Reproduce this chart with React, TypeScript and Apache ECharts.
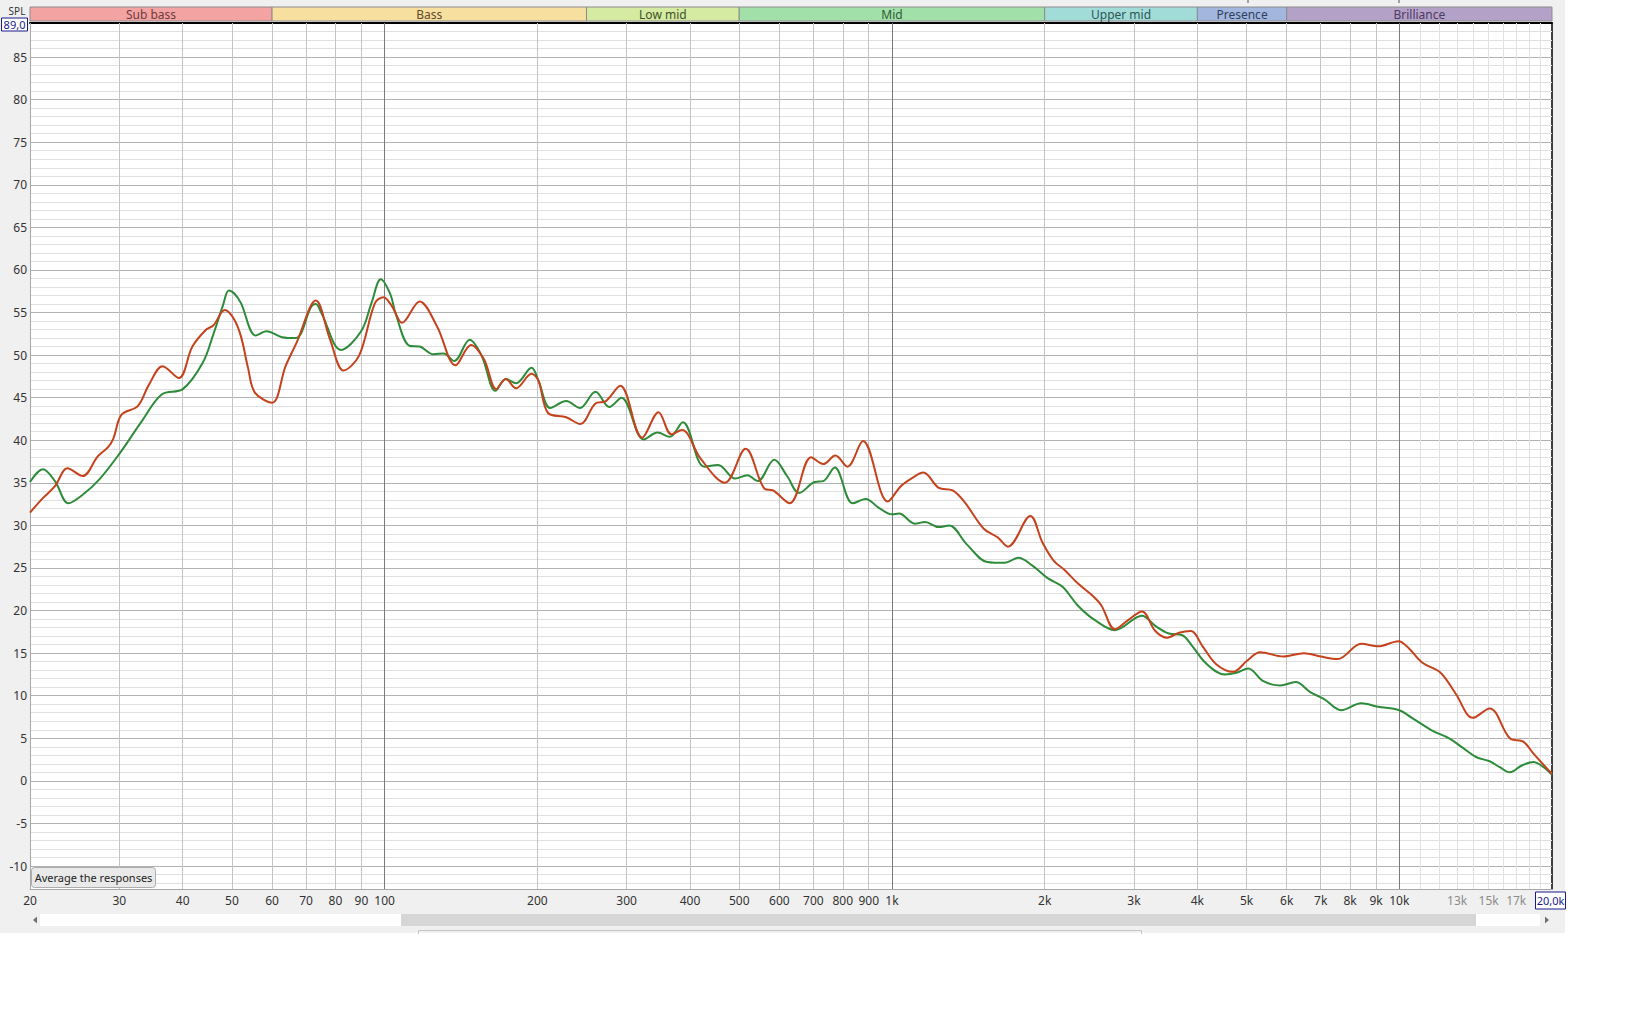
import React, { useEffect, useRef } from "react";
import * as echarts from "echarts";

// ---------- data ----------
const greenFreq = [20, 21.2, 22.4, 23.8, 25.4, 27.4, 30, 33.1, 36.4, 40, 43.8, 46, 48, 49.3, 50.6, 52.1, 55.7, 58.5, 62.8, 66.8, 71.7, 73.2, 75.1, 82.1, 89.9, 94.2, 98.3, 102.7, 105.1, 111.9, 117.3, 124.8, 130.8, 137.1, 147.1, 155.4, 165.4, 173.3, 181.6, 194.8, 201, 212, 228, 242.7, 260.4, 277.3, 292.9, 324.3, 345.1, 364.6, 387.1, 426.6, 454.2, 491.1, 518.8, 543.7, 586.1, 621.2, 656.2, 704.2, 732.3, 771.3, 836.7, 887.7, 940.7, 1000, 1033, 1109, 1162, 1237, 1297, 1403, 1541, 1667, 1774, 1889, 2027, 2169, 2324, 2508, 2751, 3110, 3305, 3514, 3736, 3912, 4159, 4525, 4775, 5037, 5397, 5826, 6243, 6688, 7110, 7677, 8415, 9085, 10000, 10590, 11610, 12540, 13330, 14170, 15070, 15780, 16520, 17430, 18390, 19250, 20000];
const greenSpl = [35.1, 36.6, 35.2, 32.6, 33.6, 35.4, 38.4, 42.1, 45.4, 46.0, 49.1, 52.5, 55.8, 57.6, 57.2, 56.1, 52.3, 52.8, 52.1, 52.0, 55.7, 56.0, 54.9, 50.6, 52.8, 56.1, 58.9, 57.1, 54.9, 51.1, 51.0, 50.1, 50.2, 49.3, 51.8, 49.9, 45.8, 47.2, 46.7, 48.5, 47.0, 43.8, 44.6, 43.8, 45.7, 43.9, 45.0, 40.1, 40.9, 40.4, 42.1, 36.9, 37.1, 35.5, 35.9, 35.2, 37.7, 35.8, 33.8, 35.1, 35.2, 36.8, 32.6, 33.1, 32.1, 31.3, 31.4, 30.2, 30.4, 29.8, 30.0, 27.8, 25.7, 25.6, 26.2, 25.3, 23.8, 22.8, 20.6, 18.9, 17.7, 19.4, 18.2, 17.3, 17.1, 15.8, 13.8, 12.5, 12.7, 13.2, 11.7, 11.2, 11.6, 10.4, 9.6, 8.3, 9.1, 8.7, 8.3, 7.4, 5.9, 5.0, 3.9, 2.8, 2.3, 1.6, 1.0, 1.8, 2.2, 1.6, 0.7];

const redFreq = [20, 21.2, 22.4, 23.7, 25.4, 27.2, 28.5, 29.2, 30.3, 32.6, 34.3, 36.5, 39.3, 41.8, 44.5, 46, 48.4, 50.4, 52.1, 53.8, 55.5, 60, 63.8, 67, 73.2, 78.1, 83, 89, 95.7, 99.5, 103.5, 108.2, 117.2, 126.8, 138, 148, 157, 166, 173.3, 181.6, 194.8, 201, 210, 228, 243, 260, 273, 291.4, 321.8, 346.7, 367.5, 385.5, 420, 468.5, 514.8, 561, 583, 628.9, 693.2, 732, 773.6, 817, 876.7, 981.3, 1041, 1092, 1153, 1237, 1317, 1392, 1517, 1615, 1693, 1874, 1980, 2087, 2186, 2324, 2489, 2587, 2751, 2925, 3110, 3305, 3487, 3680, 3883, 4096, 4356, 4703, 5011, 5317, 5917, 6487, 7004, 7560, 8415, 9085, 9965, 10430, 11090, 12060, 12930, 13960, 15070, 16520, 17560, 18390, 20000];
const redSpl = [31.5, 33.2, 34.6, 36.7, 35.8, 38.1, 39.2, 40.2, 43.0, 44.0, 46.5, 48.7, 47.3, 51.0, 53.0, 53.5, 55.3, 54.3, 52.2, 48.5, 45.6, 44.4, 48.7, 51.4, 56.4, 51.8, 48.2, 49.9, 56.1, 56.8, 55.7, 53.8, 56.3, 53.4, 48.8, 51.2, 49.5, 46.0, 47.2, 46.1, 47.8, 47.0, 43.2, 42.7, 41.9, 44.3, 44.6, 46.4, 40.3, 43.3, 40.7, 41.2, 37.8, 35.0, 39.0, 34.3, 34.1, 32.6, 38.0, 37.2, 38.2, 36.9, 39.9, 32.8, 34.6, 35.5, 36.2, 34.4, 34.1, 32.7, 29.6, 28.6, 27.5, 31.1, 28.0, 25.8, 24.8, 23.2, 21.7, 20.6, 17.8, 18.9, 19.9, 17.6, 16.8, 17.4, 17.6, 15.8, 13.7, 12.8, 14.1, 15.1, 14.6, 15.0, 14.6, 14.3, 16.1, 15.8, 16.4, 15.6, 13.9, 12.7, 10.2, 7.4, 8.5, 5.0, 4.6, 3.2, 0.8];

const bandNames = ["Sub bass", "Bass", "Low mid", "Mid", "Upper mid", "Presence", "Brilliance"];
const bandEdges = [20, 60, 250, 500, 2000, 4000, 6000, 20000];
const bandColors = ["#f4a3a3", "#f7dfa0", "#d5eba1", "#a2e0a9", "#a2dcd9", "#a3b6dd", "#b4a1c8"];
const bandTextColors = ["#6e3b3b", "#5f4a2c", "#3f4f2a", "#2f5a38", "#2f5555", "#2f3f5f", "#4b3b5e"];

const xLabelFreqs = [20, 30, 40, 50, 60, 70, 80, 90, 100, 200, 300, 400, 500, 600, 700, 800, 900, 1000, 2000, 3000, 4000, 5000, 6000, 7000, 8000, 9000, 10000, 13000, 15000, 17000];
const xLabelTexts = ["20", "30", "40", "50", "60", "70", "80", "90", "100", "200", "300", "400", "500", "600", "700", "800", "900", "1k", "2k", "3k", "4k", "5k", "6k", "7k", "8k", "9k", "10k", "13k", "15k", "17k"];
const xDarkLines = [100, 1000, 10000];
const xGridLines = [30, 40, 50, 60, 70, 80, 90, 200, 300, 400, 500, 600, 700, 800, 900, 2000, 3000, 4000, 5000, 6000, 7000, 8000, 9000];
const xFaintLines = [11000, 12000, 13000, 14000, 15000, 16000, 17000, 18000, 19000];
const yLabelValues = [-10, -5, 0, 5, 10, 15, 20, 25, 30, 35, 40, 45, 50, 55, 60, 65, 70, 75, 80, 85];
const yMinorValues = [-12, -11, -9, -8, -7, -6, -4, -3, -2, -1, 1, 2, 3, 4, 6, 7, 8, 9, 11, 12, 13, 14, 16, 17, 18, 19, 21, 22, 23, 24, 26, 27, 28, 29, 31, 32, 33, 34, 36, 37, 38, 39, 41, 42, 43, 44, 46, 47, 48, 49, 51, 52, 53, 54, 56, 57, 58, 59, 61, 62, 63, 64, 66, 67, 68, 69, 71, 72, 73, 74, 76, 77, 78, 79, 81, 82, 83, 84, 86, 87, 88];
const yMin = -12.7;
const yMax = 89;

const FONT = "'Noto Sans', 'Open Sans', sans-serif";

export default function App() {
  const ref = useRef<HTMLDivElement>(null);

  useEffect(() => {
    if (!ref.current) return;
    const chart = echarts.init(ref.current, undefined, { renderer: "svg" });

    const labelMap: Record<number, string> = {};
    xLabelFreqs.forEach((f, i) => (labelMap[f] = xLabelTexts[i]));
    const faintLabel = (f: number) => f > 10000;

    const allX = Array.from(new Set([20, ...xGridLines, ...xDarkLines, ...xFaintLines])).sort((a, b) => a - b);
    const vLines = allX.map((f) => {
      let color = "#c4c4c4";
      if (xDarkLines.includes(f)) color = "#7a7a7a";
      else if (xFaintLines.includes(f)) color = "#e2e2e2";
      else if (f === 20) color = "#a8a8a8";
      const txt = labelMap[f];
      return {
        xAxis: f,
        lineStyle: { color, width: 1, type: "solid" },
        label: txt
          ? { show: true, formatter: txt, color: faintLabel(f) ? "#8c8c8c" : "#333333" }
          : { show: false },
      };
    });
    const hMajor = yLabelValues.map((v) => ({
      yAxis: v,
      lineStyle: { color: "#b2b2b2", width: 1, type: "solid" },
      label: { show: true, formatter: String(v), color: "#333333", distance: 3 },
    }));
    const hMinor = yMinorValues.map((v) => ({
      yAxis: v,
      lineStyle: { color: "#e0e0e0", width: 1, type: "solid" },
      label: { show: false },
    }));

    const bandAreas = bandNames.map((n, i) => [
      {
        name: n,
        xAxis: bandEdges[i],
        itemStyle: { color: bandColors[i], borderColor: "#8c8c8c", borderWidth: 1 },
        label: { color: bandTextColors[i] },
      },
      { xAxis: bandEdges[i + 1] },
    ]);

    const option: any = {
      animation: false,
      backgroundColor: "#f0f0f0",
      textStyle: { fontFamily: FONT },
      grid: [
        { left: 30, right: 90, top: 23, bottom: 137, show: true, backgroundColor: "#ffffff", borderWidth: 0, containLabel: false },
        { left: 30, right: 90, top: 7, height: 14, show: false, containLabel: false },
      ],
      xAxis: [
        {
          gridIndex: 0, type: "log", logBase: 10, min: 20, max: 20000, position: "bottom",
          axisLine: { show: true, onZero: false, lineStyle: { color: "#a8a8a8", width: 1 } },
          axisTick: { show: false }, axisLabel: { show: false }, splitLine: { show: false }, minorSplitLine: { show: false },
        },
        {
          gridIndex: 0, type: "log", logBase: 10, min: 20, max: 20000, position: "top",
          axisLine: { show: true, onZero: false, lineStyle: { color: "#000000", width: 2 } },
          axisTick: { show: false }, axisLabel: { show: false }, splitLine: { show: false },
        },
        {
          gridIndex: 1, type: "log", logBase: 10, min: 20, max: 20000, show: false,
          axisLine: { onZero: false },
        },
      ],
      yAxis: [
        {
          gridIndex: 0, type: "value", min: yMin, max: yMax, position: "left",
          axisLine: { show: true, onZero: false, lineStyle: { color: "#a8a8a8", width: 1 } },
          axisTick: { show: false }, axisLabel: { show: false }, splitLine: { show: false },
        },
        {
          gridIndex: 0, type: "value", min: yMin, max: yMax, position: "right",
          axisLine: { show: true, onZero: false, lineStyle: { color: "#000000", width: 1.5 } },
          axisTick: { show: false }, axisLabel: { show: false }, splitLine: { show: false },
        },
        { gridIndex: 1, type: "value", min: 0, max: 1, show: false },
      ],
      series: [
        {
          name: "grid",
          type: "line",
          xAxisIndex: 0,
          yAxisIndex: 0,
          data: [],
          clip: false,
          silent: true,
          z: 1,
          markLine: {
            silent: true,
            symbol: ["none", "none"],
            animation: false,
            z: 1,
            label: {
              show: false,
              position: "start",
              distance: 5,
              fontSize: 12,
              fontFamily: FONT,
              color: "#333333",
            },
            emphasis: { disabled: true },
            data: [...hMinor, ...hMajor, ...vLines],
          },
        },
        {
          name: "bands",
          type: "line",
          xAxisIndex: 2,
          yAxisIndex: 2,
          data: [],
          silent: true,
          markArea: {
            silent: true,
            label: { show: true, position: "inside", fontSize: 12, fontFamily: FONT },
            emphasis: { disabled: true },
            data: bandAreas,
          },
        },
        {
          name: "Right",
          type: "line",
          xAxisIndex: 0,
          yAxisIndex: 0,
          z: 3,
          showSymbol: false,
          smooth: 0.35,
          lineStyle: { color: "#2e8b3a", width: 2 },
          itemStyle: { color: "#2e8b3a" },
          data: greenFreq.map((f, i) => [f, greenSpl[i]]),
        },
        {
          name: "Left",
          type: "line",
          xAxisIndex: 0,
          yAxisIndex: 0,
          z: 4,
          showSymbol: false,
          smooth: 0.35,
          lineStyle: { color: "#c4421c", width: 2 },
          itemStyle: { color: "#c4421c" },
          data: redFreq.map((f, i) => [f, redSpl[i]]),
        },
      ],
      graphic: [
        // white page outside the panel
        { type: "rect", silent: true, shape: { x: 1565, y: 0, width: 77, height: 1026 }, style: { fill: "#ffffff" } },
        { type: "rect", silent: true, shape: { x: 0, y: 933, width: 1642, height: 93 }, style: { fill: "#ffffff" } },
        // SPL label and top value box
        {
          type: "text", silent: true, x: 17, y: 11,
          style: { text: "SPL", fill: "#333333", font: `10px ${FONT}`, align: "center", verticalAlign: "middle", textAlign: "center", textVerticalAlign: "middle" },
        },
        { type: "rect", silent: true, z: 10, shape: { x: 1.5, y: 18, width: 26, height: 13 }, style: { fill: "#ffffff", stroke: "#1a1a8c", lineWidth: 1 } },
        {
          type: "text", silent: true, z: 11, x: 14.5, y: 24.5,
          style: { text: "89,0", fill: "#1a1a8c", font: `11px ${FONT}`, align: "center", verticalAlign: "middle", textAlign: "center", textVerticalAlign: "middle" },
        },
        // right-bottom value box
        { type: "rect", silent: true, z: 10, shape: { x: 1535.5, y: 892, width: 30, height: 17 }, style: { fill: "#ffffff", stroke: "#1a1a8c", lineWidth: 1 } },
        {
          type: "text", silent: true, z: 11, x: 1550.5, y: 900.5,
          style: { text: "20,0k", fill: "#1a1a8c", font: `11px ${FONT}`, align: "center", verticalAlign: "middle", textAlign: "center", textVerticalAlign: "middle" },
        },
        // Average button
        { type: "rect", silent: true, z: 10, shape: { x: 31.5, y: 867.5, width: 124, height: 20, r: 3 }, style: { fill: "#e9e9e9", stroke: "#adadad", lineWidth: 1 } },
        {
          type: "text", silent: true, z: 11, x: 93.5, y: 877.5,
          style: { text: "Average the responses", fill: "#222222", font: `11px ${FONT}`, align: "center", verticalAlign: "middle", textAlign: "center", textVerticalAlign: "middle" },
        },
        // scrollbar
        { type: "rect", silent: true, shape: { x: 40, y: 914, width: 1500, height: 12 }, style: { fill: "#ffffff" } },
        { type: "rect", silent: true, shape: { x: 401, y: 914, width: 1075, height: 12 }, style: { fill: "#d6d6d6" } },
        { type: "polygon", silent: true, shape: { points: [[33, 920], [37, 916.5], [37, 923.5]] }, style: { fill: "#707070" } },
        { type: "polygon", silent: true, shape: { points: [[1549, 920], [1545, 916.5], [1545, 923.5]] }, style: { fill: "#707070" } },
        { type: "polyline", silent: true, shape: { points: [[418.5, 934], [418.5, 930.5], [1141.5, 930.5], [1141.5, 934]] }, style: { stroke: "#c6c6c6", lineWidth: 1, fill: "none" } },
        // tiny marks at the very top
        { type: "line", silent: true, shape: { x1: 1248, y1: 0, x2: 1248, y2: 3 }, style: { stroke: "#555555", lineWidth: 1 } },
        { type: "line", silent: true, shape: { x1: 1399, y1: 0, x2: 1399, y2: 3 }, style: { stroke: "#555555", lineWidth: 1 } },
      ],
    };

    chart.setOption(option);
    return () => {
      chart.dispose();
    };
  }, []);

  return <div ref={ref} style={{ position: "fixed", left: 0, top: 0, width: 1642, height: 1026 }} />;
}
